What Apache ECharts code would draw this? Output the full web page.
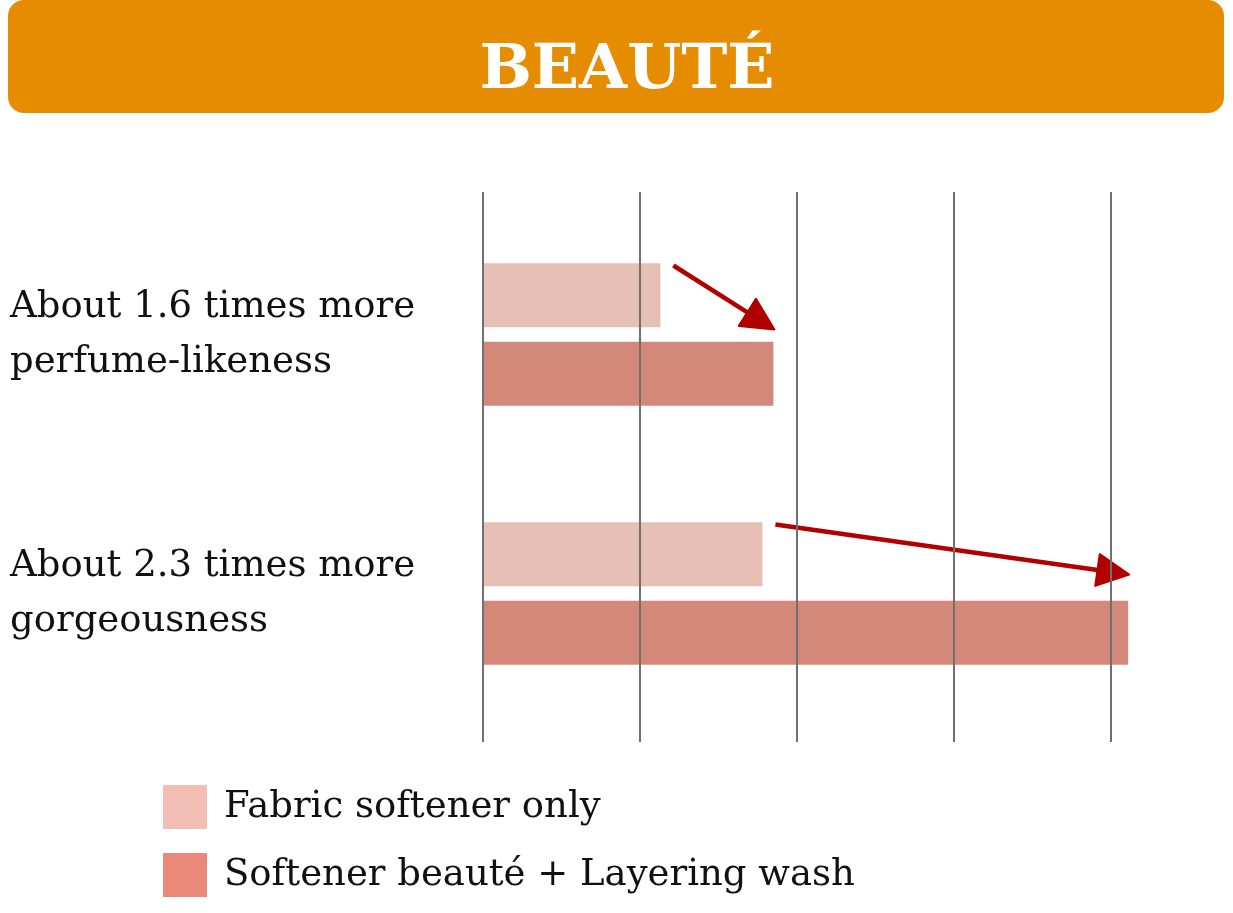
<!DOCTYPE html>
<html>
<head>
<meta charset="utf-8">
<script src="https://cdn.jsdelivr.net/npm/echarts@6/dist/echarts.min.js"></script>
<style>
html, body { margin: 0; padding: 0; background: #fff; }
#main { width: 1233px; height: 913px; }
</style>
</head>
<body>
<div id="main"></div>
<script>
// data
var categories = ['About 1.6 times more\nperfume-likeness', 'About 2.3 times more\ngorgeousness'];
var seriesNames = ['Fabric softener only', 'Softener beauté + Layering wash'];
var softenerOnly = [1.13, 1.78];
var withLayering = [1.85, 4.11];
var axisMax = 4.3;

var FONT = 'DejaVu Serif';
var myChart = echarts.init(document.getElementById('main'));

var option = {
    backgroundColor: '#fff',
    animation: false,
    graphic: [
        { type: 'rect', shape: { x: 8, y: 0, width: 1216, height: 113, r: 16 }, style: { fill: '#E68C00' } },
        { type: 'text', style: { x: 627, y: 72, text: 'BEAUTÉ', textAlign: 'center', textVerticalAlign: 'middle',
            fill: '#fff', font: 'bold 62px "DejaVu Serif"' } }
    ],
    legend: {
        orient: 'vertical',
        left: 158,
        top: 780,
        itemWidth: 44,
        itemHeight: 44,
        itemGap: 24,
        icon: 'rect',
        textStyle: { fontFamily: FONT, fontSize: 37, color: '#111', padding: [8, 0, 0, 12] },
        data: [
            { name: seriesNames[0], itemStyle: { color: '#F3BFB5' } },
            { name: seriesNames[1], itemStyle: { color: '#E8897A' } }
        ]
    },
    grid: [
        { left: 483, top: 192, width: 675, height: 550 },
        { left: 483, top: 205, width: 675, height: 518 }
    ],
    xAxis: [
        {
            gridIndex: 0, type: 'value', min: 0, max: axisMax, interval: 1, z: 10,
            axisLine: { show: false }, axisTick: { show: false }, axisLabel: { show: false },
            splitLine: { show: true, showMaxLine: false, lineStyle: { color: '#707070', width: 2 } }
        },
        {
            gridIndex: 1, type: 'value', min: 0, max: axisMax, interval: 1,
            axisLine: { show: false }, axisTick: { show: false }, axisLabel: { show: false },
            splitLine: { show: false }
        }
    ],
    yAxis: [
        { gridIndex: 0, type: 'category', data: categories, show: false },
        {
            gridIndex: 1, type: 'category', data: categories, inverse: true,
            axisLine: { show: false }, axisTick: { show: false },
            axisLabel: { align: 'left', margin: 473, fontFamily: FONT, fontSize: 37, lineHeight: 55,
                color: '#111', padding: [10, 0, 0, 0] }
        }
    ],
    series: [
        {
            name: seriesNames[0], type: 'bar', xAxisIndex: 1, yAxisIndex: 1,
            data: softenerOnly, barWidth: 64, barGap: '23%',
            itemStyle: { color: '#E6BFB4' }
        },
        {
            name: seriesNames[1], type: 'bar', xAxisIndex: 1, yAxisIndex: 1,
            data: withLayering, barWidth: 64, barGap: '23%',
            itemStyle: { color: '#D4887A' }
        }
    ]
};
myChart.setOption(option);

// arrows from the light bar end to the dark bar end
function arrow(x1, y1, x2, y2) {
    var dx = x2 - x1, dy = y2 - y1, len = Math.sqrt(dx * dx + dy * dy);
    var ux = dx / len, uy = dy / len, hl = 32, hw = 16;
    var bx = x2 - ux * hl, by = y2 - uy * hl;
    return [
        { type: 'line', shape: { x1: x1, y1: y1, x2: bx, y2: by }, style: { stroke: '#B00000', lineWidth: 4.5 } },
        { type: 'polygon', shape: { points: [[x2, y2], [bx - uy * hw, by + ux * hw], [bx + uy * hw, by - ux * hw]] },
            style: { fill: '#B00000', stroke: '#B00000', lineWidth: 2, lineJoin: 'round' } }
    ];
}
var extra = option.graphic.slice();
var tipDy = [-5, -19];
for (var i = 0; i < categories.length; i++) {
    var a = myChart.convertToPixel({ gridIndex: 1 }, [softenerOnly[i], i]);
    var b = myChart.convertToPixel({ gridIndex: 1 }, [withLayering[i], i]);
    // light bar spans centre-71.5 .. centre-7.5
    extra = extra.concat(arrow(a[0] + 13, a[1] - 69, b[0] + 1, b[1] + tipDy[i]));
}
myChart.setOption({ graphic: extra }, { replaceMerge: ['graphic'] });
</script>
</body>
</html>
